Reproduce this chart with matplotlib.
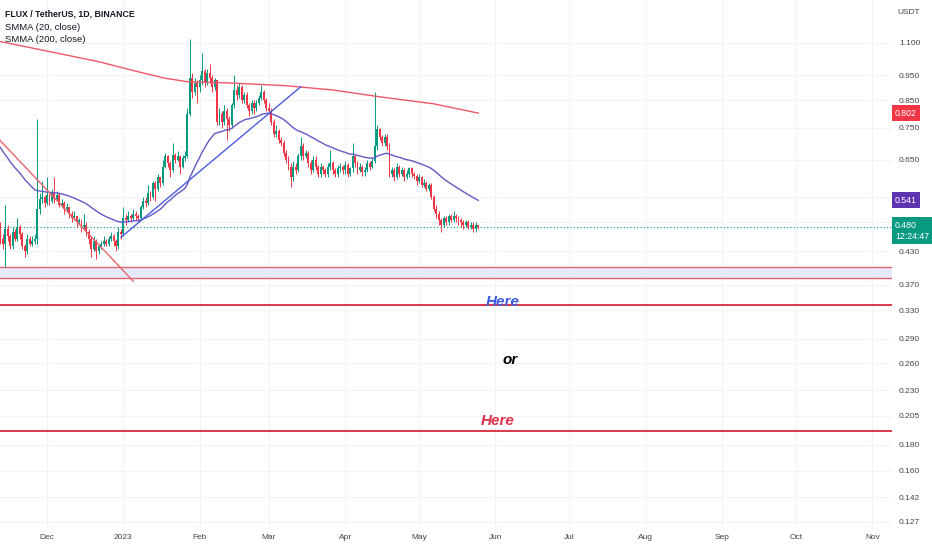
import datetime as dt

import numpy as np
import matplotlib
matplotlib.use('Agg')
import matplotlib.pyplot as plt
import matplotlib.dates as mdates
from matplotlib import font_manager
from matplotlib.transforms import blended_transform_factory

# FLUX/USDT daily candles, 12 Nov 2022 .. 25 May 2023
first_day = dt.datetime(2022, 11, 12)
first_open = 0.47

close_nov = [0.455, 0.445, 0.475, 0.46, 0.44, 0.47, 0.455, 0.48, 0.465, 0.44,
             0.43, 0.455, 0.445, 0.45, 0.455, 0.52, 0.545, 0.55, 0.535]
high_nov = [0.49, 0.465, 0.53, 0.485, 0.465, 0.48, 0.475, 0.50, 0.485, 0.47,
            0.445, 0.465, 0.46, 0.46, 0.465, 0.78, 0.56, 0.59, 0.555]
low_nov = [0.445, 0.435, 0.40, 0.45, 0.435, 0.435, 0.45, 0.45, 0.455, 0.435,
           0.42, 0.425, 0.44, 0.44, 0.445, 0.445, 0.51, 0.535, 0.525]

close_dec = [0.555, 0.54, 0.56, 0.545, 0.555, 0.53, 0.535, 0.52, 0.525, 0.51,
             0.50, 0.505, 0.49, 0.495, 0.48, 0.485, 0.47, 0.455, 0.435, 0.45,
             0.43, 0.44, 0.445, 0.45, 0.445, 0.455, 0.46, 0.45, 0.44, 0.47, 0.465]
high_dec = [0.60, 0.56, 0.57, 0.60, 0.565, 0.56, 0.545, 0.54, 0.535, 0.525,
            0.515, 0.515, 0.505, 0.50, 0.495, 0.51, 0.49, 0.475, 0.46, 0.46,
            0.455, 0.445, 0.45, 0.46, 0.455, 0.46, 0.47, 0.465, 0.455, 0.48, 0.475]
low_dec = [0.53, 0.53, 0.535, 0.535, 0.54, 0.525, 0.525, 0.51, 0.515, 0.50,
           0.49, 0.495, 0.48, 0.485, 0.47, 0.475, 0.46, 0.445, 0.42, 0.43,
           0.415, 0.425, 0.435, 0.44, 0.44, 0.44, 0.45, 0.44, 0.43, 0.435, 0.455]

close_jan = [0.50, 0.495, 0.505, 0.50, 0.51, 0.505, 0.50, 0.525, 0.54, 0.535,
             0.56, 0.55, 0.585, 0.57, 0.60, 0.585, 0.63, 0.66, 0.64, 0.62,
             0.665, 0.65, 0.66, 0.63, 0.655, 0.66, 0.80, 0.94, 0.88, 0.92, 0.90]
high_jan = [0.525, 0.51, 0.515, 0.51, 0.52, 0.515, 0.51, 0.53, 0.55, 0.55,
            0.58, 0.565, 0.59, 0.59, 0.61, 0.60, 0.65, 0.67, 0.665, 0.645,
            0.70, 0.67, 0.675, 0.66, 0.665, 0.675, 0.82, 1.12, 0.96, 0.94, 0.93]
low_jan = [0.46, 0.485, 0.49, 0.49, 0.495, 0.495, 0.49, 0.495, 0.52, 0.525,
           0.53, 0.54, 0.545, 0.54, 0.565, 0.575, 0.58, 0.625, 0.63, 0.60,
           0.615, 0.64, 0.645, 0.61, 0.625, 0.645, 0.655, 0.79, 0.86, 0.87, 0.84]

close_feb = [0.93, 0.97, 0.92, 0.96, 0.94, 0.90, 0.93, 0.77, 0.80, 0.77,
             0.81, 0.78, 0.76, 0.83, 0.89, 0.87, 0.90, 0.85, 0.87, 0.83,
             0.81, 0.84, 0.82, 0.84, 0.86, 0.88, 0.85, 0.82]
high_feb = [0.95, 1.05, 0.98, 0.98, 1.00, 0.95, 0.94, 0.93, 0.82, 0.81,
            0.83, 0.82, 0.79, 0.84, 0.95, 0.91, 0.92, 0.91, 0.88, 0.88,
            0.84, 0.85, 0.85, 0.85, 0.87, 0.91, 0.89, 0.86]
low_feb = [0.88, 0.91, 0.90, 0.91, 0.92, 0.88, 0.89, 0.76, 0.76, 0.75,
           0.76, 0.71, 0.74, 0.75, 0.82, 0.85, 0.86, 0.84, 0.84, 0.82,
           0.79, 0.80, 0.80, 0.81, 0.83, 0.85, 0.84, 0.81]

close_mar = [0.81, 0.77, 0.73, 0.74, 0.71, 0.70, 0.67, 0.65, 0.63, 0.60,
             0.63, 0.62, 0.66, 0.69, 0.66, 0.67, 0.64, 0.62, 0.65, 0.63,
             0.61, 0.63, 0.62, 0.61, 0.63, 0.64, 0.62, 0.61, 0.625, 0.63, 0.62]
high_mar = [0.84, 0.82, 0.78, 0.76, 0.745, 0.72, 0.71, 0.68, 0.66, 0.64,
            0.645, 0.64, 0.67, 0.72, 0.70, 0.68, 0.675, 0.65, 0.66, 0.66,
            0.635, 0.64, 0.635, 0.625, 0.64, 0.68, 0.645, 0.625, 0.635, 0.64, 0.635]
low_mar = [0.80, 0.76, 0.72, 0.72, 0.70, 0.69, 0.66, 0.64, 0.62, 0.575,
           0.59, 0.61, 0.615, 0.65, 0.65, 0.655, 0.63, 0.61, 0.615, 0.62,
           0.60, 0.60, 0.61, 0.60, 0.60, 0.62, 0.61, 0.60, 0.60, 0.615, 0.61]

close_apr = [0.635, 0.61, 0.625, 0.66, 0.64, 0.62, 0.63, 0.615, 0.62, 0.64,
             0.63, 0.645, 0.69, 0.745, 0.72, 0.70, 0.72, 0.69, 0.61, 0.62,
             0.60, 0.63, 0.61, 0.62, 0.60, 0.61, 0.625, 0.61, 0.605, 0.59]
high_apr = [0.645, 0.64, 0.63, 0.70, 0.665, 0.645, 0.64, 0.635, 0.63, 0.65,
            0.645, 0.655, 0.88, 0.76, 0.75, 0.725, 0.73, 0.73, 0.70, 0.63,
            0.625, 0.64, 0.635, 0.63, 0.625, 0.62, 0.63, 0.63, 0.615, 0.61]
low_apr = [0.61, 0.60, 0.605, 0.615, 0.63, 0.61, 0.615, 0.605, 0.605, 0.615,
           0.62, 0.625, 0.64, 0.68, 0.71, 0.69, 0.69, 0.68, 0.60, 0.60,
           0.59, 0.595, 0.60, 0.605, 0.59, 0.595, 0.60, 0.60, 0.595, 0.58]

close_may = [0.60, 0.58, 0.585, 0.57, 0.58, 0.55, 0.52, 0.51, 0.495, 0.485,
             0.50, 0.49, 0.505, 0.495, 0.505, 0.50, 0.495, 0.49, 0.485, 0.49,
             0.48, 0.485, 0.475, 0.485, 0.48]
high_may = [0.61, 0.605, 0.595, 0.59, 0.585, 0.585, 0.555, 0.53, 0.515, 0.50,
            0.505, 0.505, 0.51, 0.51, 0.515, 0.51, 0.505, 0.50, 0.495, 0.495,
            0.495, 0.49, 0.49, 0.49, 0.485]
low_may = [0.585, 0.575, 0.575, 0.565, 0.565, 0.545, 0.515, 0.50, 0.485, 0.47,
           0.48, 0.485, 0.485, 0.49, 0.49, 0.49, 0.485, 0.48, 0.475, 0.48,
           0.475, 0.475, 0.47, 0.47, 0.475]

# SMMA(200)
smma200_days = ['2022-11-11', '2022-12-02', '2022-12-22', '2023-01-04', '2023-01-18',
                '2023-01-27', '2023-02-14', '2023-03-07', '2023-03-27', '2023-04-15',
                '2023-05-07', '2023-05-25']
smma200_vals = [1.11, 1.058, 1.011, 0.974, 0.938, 0.924, 0.918, 0.908, 0.89,
                0.863, 0.836, 0.802]
smma20_start = 0.70

# hand drawn lines
red_trend_days = ['2022-11-01', '2023-01-05']
red_trend_vals = [0.806, 0.376]
blue_trend_days = ['2022-12-31', '2023-03-14']
blue_trend_vals = [0.458, 0.903]
zone_low, zone_high = 0.381, 0.400
target_levels = [0.337, 0.191]
last_price = 0.480

month_ticks = ['2022-12-01', '2023-01-01', '2023-02-01', '2023-03-01', '2023-04-01',
               '2023-05-01', '2023-06-01', '2023-07-01', '2023-08-01', '2023-09-01',
               '2023-10-01', '2023-11-01']
month_labels = ['Dec', '2023', 'Feb', 'Mar', 'Apr', 'May', 'Jun', 'Jul', 'Aug',
                'Sep', 'Oct', 'Nov']
price_ticks = [1.100, 0.950, 0.850, 0.750, 0.650, 0.550, 0.490, 0.430, 0.370,
               0.330, 0.290, 0.260, 0.230, 0.205, 0.180, 0.160, 0.142, 0.127]

GREEN = '#089981'
RED = '#f23645'

names = {f.name for f in font_manager.fontManager.ttflist}
narrow = 'Liberation Sans Narrow' if 'Liberation Sans Narrow' in names else 'Liberation Sans'
plt.rcParams['font.family'] = ['Liberation Sans', 'DejaVu Sans']
fam = [narrow, 'DejaVu Sans']


def to_num(days):
    return mdates.date2num([dt.datetime.strptime(d, '%Y-%m-%d') for d in days])


close = np.array(close_nov + close_dec + close_jan + close_feb + close_mar + close_apr + close_may)
high = np.array(high_nov + high_dec + high_jan + high_feb + high_mar + high_apr + high_may)
low = np.array(low_nov + low_dec + low_jan + low_feb + low_mar + low_apr + low_may)
opn = np.concatenate([[first_open], close[:-1]])
x = mdates.date2num([first_day + dt.timedelta(days=i) for i in range(len(close))])

# smoothed moving average, same as the indicator
smma20 = []
value = smma20_start
for c in close:
    value = (value * 19 + c) / 20
    smma20.append(value)

fig = plt.figure(figsize=(9.32, 5.5), dpi=100)
ax = fig.add_axes([0, 22 / 550, 892 / 932, 528 / 550])
ax.set_yscale('log')

dec1 = mdates.date2num(dt.datetime(2022, 12, 1))
px_per_day = 2.464
ax.set_xlim(dec1 - 47 / px_per_day, dec1 + (892 - 47) / px_per_day)
ax.set_ylim(0.1236, 1.335)

# grid
for m in to_num(month_ticks):
    ax.axvline(m, color='#f2f3f6', lw=0.8, zorder=0)
for p in price_ticks:
    ax.axhline(p, color='#f2f3f6', lw=0.8, zorder=0)

# zone and target levels
ax.axhspan(zone_low, zone_high, color='#e4e9fb', lw=0, zorder=1)
ax.axhline(zone_low, color='#e8636d', lw=1.0, zorder=2)
ax.axhline(zone_high, color='#e8636d', lw=1.0, zorder=2)
for lvl in target_levels:
    ax.axhline(lvl, color='#d8293a', lw=1.3, zorder=2)

ax.axhline(last_price, color=GREEN, lw=0.8, ls=(0, (1, 2)), zorder=2)

# candles
up = close >= opn
colors = np.where(up, GREEN, RED)
ax.vlines(x, low, high, colors=colors, lw=0.7, zorder=3)
ax.bar(x, np.abs(close - opn), bottom=np.minimum(close, opn), width=0.78,
       color=colors, lw=0, zorder=3)

# indicators and drawings
ax.plot(x, smma20, color='#6259c4', lw=1.0, zorder=4)
ax.plot(to_num(smma200_days), smma200_vals, color='#ef5866', lw=1.0, zorder=4)
ax.plot(to_num(red_trend_days), red_trend_vals, color='#e8636d', lw=1.0, zorder=4)
ax.plot(to_num(blue_trend_days), blue_trend_vals, color='#4a5be0', lw=1.0, zorder=4)

ax.text(to_num(['2023-06-04'])[0], 0.342, 'Here', color='#3d5be0', fontsize=11,
        fontweight='bold', fontstyle='italic', ha='center', va='center', zorder=6)
ax.text(to_num(['2023-06-07'])[0], 0.264, 'or', color='black', fontsize=11,
        fontweight='bold', fontstyle='italic', ha='center', va='center', zorder=6)
ax.text(to_num(['2023-06-02'])[0], 0.200, 'Here', color='#e0304a', fontsize=11,
        fontweight='bold', fontstyle='italic', ha='center', va='center', zorder=6)

# axes styling
for s in ax.spines.values():
    s.set_visible(False)
ax.set_xticks(to_num(month_ticks))
ax.set_xticklabels(month_labels)
ax.yaxis.tick_right()
ax.yaxis.set_minor_locator(matplotlib.ticker.NullLocator())
ax.set_yticks(price_ticks)
ax.set_yticklabels(['%.3f' % p for p in price_ticks])
ax.tick_params(axis='x', length=0, pad=4, labelsize=6, labelcolor='#444444')
ax.tick_params(axis='y', length=0, pad=5, labelsize=6, labelcolor='#444444')
for lab in ax.get_xticklabels() + ax.get_yticklabels():
    lab.set_family(fam)

# last value labels on the price scale
tr = blended_transform_factory(ax.transAxes, ax.transData)
x_lab = 1 + 3 / 892
box = dict(boxstyle='square,pad=0.38', ec='none')
ax.text(x_lab, smma200_vals[-1], '%.3f' % smma200_vals[-1], transform=tr, color='white',
        fontsize=6.3, family=fam, va='center', ha='left', clip_on=False, zorder=10,
        bbox=dict(box, fc=RED))
ax.text(x_lab, smma20[-1], '%.3f' % smma20[-1], transform=tr, color='white',
        fontsize=6.3, family=fam, va='center', ha='left', clip_on=False, zorder=10,
        bbox=dict(box, fc='#5e35b1'))
ax.annotate('%.3f\n12:24:47' % last_price, xy=(x_lab, last_price), xycoords=tr,
            xytext=(0, 4.5), textcoords='offset points', color='white', fontsize=6.3,
            family=fam, va='top', ha='left', annotation_clip=False, zorder=10,
            linespacing=1.3, bbox=dict(box, fc=GREEN))

fig.text(897 / 932, 1 - 12 / 550, 'USDT', fontsize=6, color='#444444', va='center',
         family=fam)
fig.text(5 / 932, 1 - 14 / 550, 'FLUX / TetherUS, 1D, BINANCE', fontsize=6.3, fontweight='bold',
         color='#131722', va='center', family=fam)
fig.text(5 / 932, 1 - 27 / 550, 'SMMA (20, close)', fontsize=6.8, color='#131722', va='center',
         family=fam)
fig.text(5 / 932, 1 - 40 / 550, 'SMMA (200, close)', fontsize=6.8, color='#131722', va='center',
         family=fam)

fig.savefig('out.png', dpi=100, facecolor='white')
